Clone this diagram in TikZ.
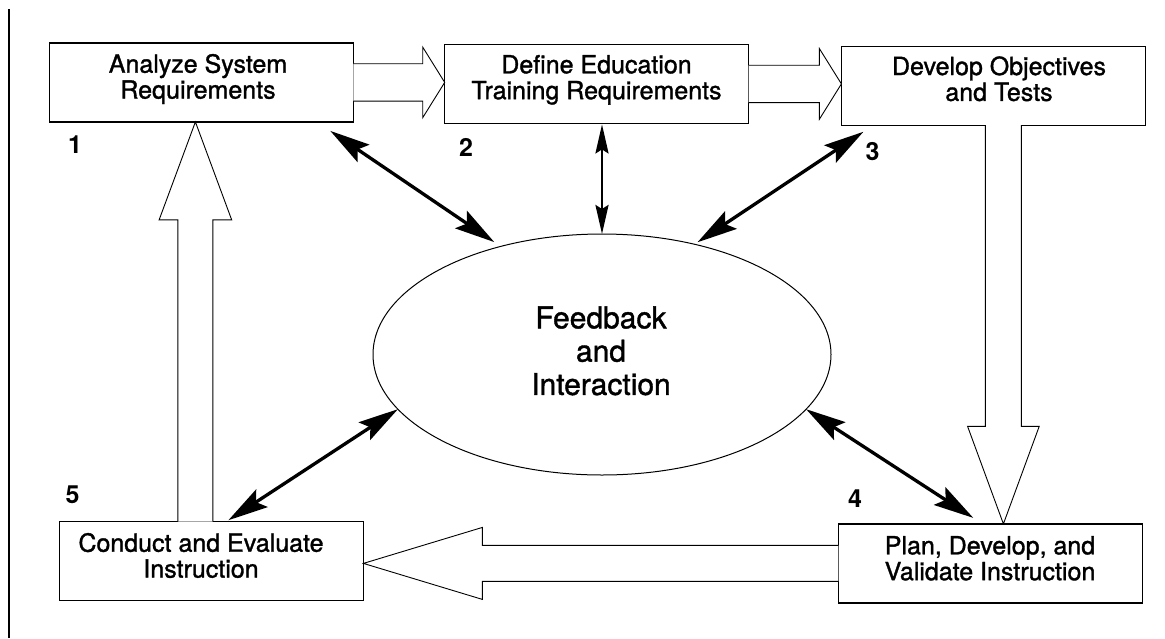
\documentclass[tikz,border=0pt]{standalone}
\usepackage{fontspec}
\setmainfont{TeX Gyre Heros}
\newfontfamily\stagefont{TeX Gyre Heros}[FakeBold=1.3]
\usetikzlibrary{shapes.geometric,arrows.meta,calc}

\tikzset{
  stagebox/.style={draw, rectangle, line width=1.3pt, minimum width=304pt,
    minimum height=79pt, inner sep=0pt, outer sep=0pt},
  stagetext/.style={anchor=base, inner sep=0pt,
    font=\stagefont\fontsize{25}{25.5}\selectfont},
  centertext/.style={anchor=base, inner sep=0pt,
    font=\stagefont\fontsize{30}{33.3}\selectfont},
  stepnum/.style={anchor=base, inner sep=0pt,
    font=\fontsize{25}{30}\selectfont\bfseries},
  % hollow block arrow: shaft half width / head half width / head length
  blockarrow/.style args={#1/#2/#3}{draw, fill=white, line width=0.9pt,
    line join=miter,
    to path={let \p1=(\tikztostart), \p2=(\tikztotarget),
      \n1={atan2(\y2-\y1,\x2-\x1)}, \n2={veclen(\x2-\x1,\y2-\y1)-#3pt} in
      ($(\p1)+(\n1+90:#1pt)$) -- ($(\p1)+(\n1:\n2)+(\n1+90:#1pt)$)
      -- ($(\p1)+(\n1:\n2)+(\n1+90:#2pt)$) -- (\p2)
      -- ($(\p1)+(\n1:\n2)+(\n1-90:#2pt)$)
      -- ($(\p1)+(\n1:\n2)+(\n1-90:#1pt)$)
      -- ($(\p1)+(\n1-90:#1pt)$)}},
  fbarrow/.style={line width=3.3pt,
    {Stealth[length=40pt,width=21pt,inset=7pt]}-{Stealth[length=40pt,width=21pt,inset=7pt]}},
  fbthin/.style={line width=2.6pt,
    {Stealth[length=29pt,width=13pt,inset=4pt]}-{Stealth[length=29pt,width=13pt,inset=4pt]}}
}

\begin{document}
\begin{tikzpicture}[x=1pt,y=-1pt]
  \useasboundingbox (0,0) rectangle (1165,638);
  \fill[white] (0,0) rectangle (1165,638);

  % margin rule on the left
  \coordinate (rt) at (9,9);
  \coordinate (rb) at (9,638);
  \draw[line width=1.4pt] (rt) -- (rb);

  % the five stages
  \node[stagebox] (b1) at (201.3,82.4) {};
  \node[stagebox] (b2) at (596.7,83.9) {};
  \node[stagebox] (b3) at (993.4,85.7) {};
  \node[stagebox] (b4) at (990.3,563.4) {};
  \node[stagebox] (b5) at (211.4,561.2) {};

  % central ellipse
  \node[ellipse, draw, line width=1pt, minimum width=458pt, minimum height=241pt,
        inner sep=0pt, outer sep=0pt] (fb) at (602,354.5) {};

  % stage texts
  \node[stagetext] (t1) at (198,72.7)
    {\begin{tabular}[t]{@{}c@{}}Analyze System\\Requirements\end{tabular}};
  \node[stagetext] (t2) at (596.5,73.3)
    {\begin{tabular}[t]{@{}c@{}}Define Education\\Training Requirements\end{tabular}};
  \node[stagetext] (t3) at (999,75)
    {\begin{tabular}[t]{@{}c@{}}Develop Objectives\\and Tests\end{tabular}};
  \node[stagetext] (t4) at (990,554.3)
    {\begin{tabular}[t]{@{}c@{}}Plan, Develop, and\\Validate Instruction\end{tabular}};
  \node[stagetext] (t5) at (201,551.7)
    {\begin{tabular}[t]{@{}c@{}}Conduct and Evaluate\\Instruction\end{tabular}};
  \node[centertext] (tc) at (601,328.3)
    {\begin{tabular}[t]{@{}c@{}}Feedback\\and\\Interaction\end{tabular}};

  % stage numbers
  \node[stepnum] (n1) at (75,153) {1};
  \node[stepnum] (n2) at (466,156) {2};
  \node[stepnum] (n3) at (872.5,160) {3};
  \node[stepnum] (n4) at (855,507) {4};
  \node[stepnum] (n5) at (72.5,503) {5};

  % hollow arrows around the cycle
  \draw[blockarrow=18.7/35.3/22] (b1.east) to (b1.east -| b2.west);
  \draw[blockarrow=18.7/35.3/22] (b2.east) to (b2.east -| b3.west);
  \coordinate (a34) at ([xshift=10pt]b3.south);
  \draw[blockarrow=18/35.8/97.5] (a34) to (a34 |- b4.north);
  \draw[blockarrow=18/36/119] (b4.west) to (b4.west -| b5.east);
  \coordinate (a51) at ([xshift=-16pt]b5.north);
  \draw[blockarrow=17.5/36.3/98] (a51) to (a51 |- b1.south);

  % feedback links
  \draw[fbarrow] ([shift={(-23,9)}]b1.south east) -- ([shift={(-4,-5)}]fb.134);
  \draw[fbthin] ([yshift=-1pt]fb.north |- b2.south) -- (fb.north);
  \draw[fbarrow] ([shift={(22,6.6)}]b3.south west) -- ([shift={(3,-2)}]fb.50);
  \draw[fbarrow] ([shift={(17,-1.5)}]b5.north) -- (fb.195);
  \draw[fbarrow] ([shift={(-17,-6)}]b4.north) -- (fb.345.5);
\end{tikzpicture}
\end{document}
